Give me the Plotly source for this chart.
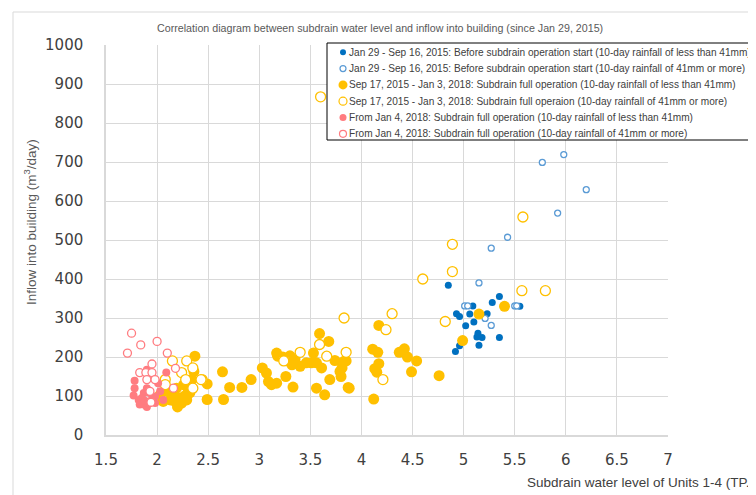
import plotly.graph_objects as go

# Subdrain water level (TP.m) vs inflow into building (m3/day)
blue_fill_x = [4.85, 5.35, 5.28, 5.09, 4.93, 4.96, 5.06, 5.23, 5.10, 5.02, 5.14, 5.13, 5.18, 5.35, 5.15, 4.96, 4.92, 5.55]
blue_fill_y = [384, 355, 340, 331, 311, 304, 310, 311, 290, 280, 261, 251, 250, 250, 230, 229, 214, 330]

blue_open_x = [5.98, 5.77, 6.20, 5.92, 5.43, 5.27, 5.15, 5.01, 5.04, 5.50, 5.52, 5.21, 5.27]
blue_open_y = [719, 699, 629, 569, 507, 479, 390, 331, 331, 331, 331, 299, 281]

yellow_fill_x = [3.59, 3.68, 3.53, 3.17, 3.18, 3.23, 3.30, 3.32, 3.26, 3.40, 3.46, 3.51, 3.56, 3.61,
                 3.74, 3.69, 3.64, 3.56, 3.79, 3.83, 3.87, 3.03, 3.07, 3.09, 3.17, 3.12, 3.33, 2.92,
                 2.83, 2.71, 2.64, 2.65, 2.49, 2.49, 2.37, 2.20, 2.32, 2.26, 2.34, 2.36, 2.13, 2.06,
                 2.16, 2.11, 2.19, 2.24, 2.29, 2.03, 4.17, 4.11, 4.16, 3.85, 3.81, 4.17, 4.13, 4.15,
                 4.37, 4.42, 4.45, 4.54, 4.49, 4.76, 3.88, 4.12, 3.80, 5.15, 5.40, 4.99, 3.35, 3.28,
                 2.27, 2.22, 2.18, 2.30]
yellow_fill_y = [260, 240, 210, 210, 202, 200, 203, 180, 150, 176, 185, 185, 185, 172,
                 191, 142, 103, 120, 163, 189, 122, 172, 159, 137, 133, 129, 123, 142,
                 122, 122, 162, 91, 91, 131, 202, 72, 108, 129, 142, 163, 90, 86,
                 103, 112, 120, 82, 90, 103, 281, 220, 212, 190, 172, 183, 170, 161,
                 212, 221, 200, 190, 162, 152, 120, 92, 150, 310, 330, 242, 195, 190,
                 100, 95, 85, 120]

yellow_open_x = [3.60, 5.58, 4.89, 4.89, 4.60, 5.57, 5.80, 4.82, 3.83, 4.30, 4.24, 3.85, 4.21, 3.40,
                 3.59, 3.66, 2.44, 3.24, 2.15, 2.29, 2.35, 2.24, 2.43, 2.08, 2.28, 2.35, 2.08]
yellow_open_y = [867, 559, 489, 419, 400, 370, 370, 291, 300, 311, 270, 212, 142, 212,
                 232, 202, 142, 190, 190, 190, 172, 160, 142, 142, 142, 120, 129]

pink_fill_x = [2.09, 1.90, 1.78, 1.78, 1.77, 1.82, 1.87, 1.93, 1.98, 2.03, 2.01, 1.87, 1.90, 1.98,
               1.83, 2.06, 1.90, 1.93, 1.85, 1.95, 1.88]
pink_fill_y = [160, 167, 139, 120, 101, 90, 78, 82, 99, 112, 133, 108, 120, 82,
               78, 90, 72, 108, 95, 92, 88]

pink_open_x = [1.75, 1.84, 2.00, 1.71, 2.10, 1.95, 2.18, 1.83, 1.89, 1.95, 1.90, 1.98, 2.16, 1.93, 1.94]
pink_open_y = [261, 231, 240, 210, 210, 182, 171, 160, 160, 160, 142, 142, 120, 112, 84]

series_names = [
    "Jan 29 - Sep 16, 2015: Before subdrain operation start (10-day rainfall of less than 41mm)",
    "Jan 29 - Sep 16, 2015: Before subdrain operation start (10-day rainfall of 41mm or more)",
    "Sep 17, 2015 - Jan 3, 2018: Subdrain full operation (10-day rainfall of less than 41mm)",
    "Sep 17, 2015 - Jan 3, 2018: Subdrain full operaion (10-day rainfall of 41mm or more)",
    "From Jan 4, 2018: Subdrain full operation (10-day rainfall of less than 41mm)",
    "From Jan 4, 2018: Subdrain full operation (10-day rainfall of 41mm or more)",
]

x_ticks = [1.5, 2, 2.5, 3, 3.5, 4, 4.5, 5, 5.5, 6, 6.5, 7]
y_ticks = [0, 100, 200, 300, 400, 500, 600, 700, 800, 900, 1000]

BLUE = "#0070C0"
BLUE_OPEN = "#5B9BD5"
YELLOW = "#FFC000"
PINK = "#FF7C80"
GRID = "#D9D9D9"
SANS = "Liberation Sans, Arial, sans-serif"

# (x, y, colour, filled, marker size, legend marker size)
series = [
    (blue_fill_x, blue_fill_y, BLUE, True, 7, 6),
    (blue_open_x, blue_open_y, BLUE_OPEN, False, 6, 6),
    (yellow_fill_x, yellow_fill_y, YELLOW, True, 11, 9),
    (yellow_open_x, yellow_open_y, YELLOW, False, 10, 8),
    (pink_fill_x, pink_fill_y, PINK, True, 8, 7),
    (pink_open_x, pink_open_y, PINK, False, 8, 7),
]

fig = go.Figure()
for name, (xs, ys, col, filled, size, _) in zip(series_names, series):
    marker = dict(size=size, color=col if filled else "white",
                  line=dict(width=0 if filled else 1.3, color=col))
    fig.add_trace(go.Scatter(x=xs, y=ys, mode="markers", name=name, marker=marker, showlegend=False))

# the page body has an 8px margin, so the figure starts at (8, 8) in the window.
# wanted plot area in window pixels: x 106..668, y 45..435
OFF = 8
PL, PR, PT, PB = 106, 668, 45, 435
W, H = PR - PL, PB - PT


def px(x):
    return (x - PL) / W


def py(y):
    return (PB - y) / H


shapes = [
    # outer chart-area border (clipped by the window)
    dict(type="rect", xref="paper", yref="paper", x0=px(13), x1=px(900), y0=py(700), y1=py(12),
         line=dict(color=GRID, width=1), layer="below"),
    # legend box
    dict(type="rect", xref="paper", yref="paper", x0=px(327), x1=px(753), y0=py(140), y1=py(43),
         line=dict(color="black", width=1), fillcolor="white", layer="above"),
]
annotations = []
for i, (name, (_, _, col, filled, _, lsize)) in enumerate(zip(series_names, series)):
    yc = 52.3 + i * 16.3
    r = lsize / 2
    shapes.append(dict(type="circle", xref="paper", yref="paper", xsizemode="pixel", ysizemode="pixel",
                       xanchor=px(343), yanchor=py(yc), x0=-r, x1=r, y0=-r, y1=r,
                       fillcolor=col if filled else "white", line=dict(color=col, width=0 if filled else 1.2),
                       layer="above"))
    annotations.append(dict(xref="paper", yref="paper", x=px(347), y=py(yc), text=name, showarrow=False,
                            xanchor="left", yanchor="middle", font=dict(family=SANS, size=10.1, color="#404040")))

annotations += [
    dict(xref="paper", yref="paper", x=px(380), y=py(28), text="Correlation diagram between subdrain water level and inflow into building (since Jan 29, 2015)",
         showarrow=False, xanchor="center", yanchor="middle", font=dict(family=SANS, size=10.7, color="#595959")),
    dict(xref="paper", yref="paper", x=px(30), y=py(222), text="Inflow into building (m<sup>3</sup>/day)",
         textangle=-90, showarrow=False, xanchor="center", yanchor="middle", font=dict(family=SANS, size=13.5, color="#595959")),
    dict(xref="paper", yref="paper", x=px(525), y=py(482), text="Subdrain water level of Units 1-4 (TP.m)",
         showarrow=False, xanchor="left", yanchor="middle", font=dict(family=SANS, size=13.5, color="#404040")),
]

fig.update_layout(
    width=756, height=495,
    margin=dict(l=PL - OFF, r=756 - (PR - OFF), t=PT - OFF, b=495 - (PB - OFF)),
    paper_bgcolor="white", plot_bgcolor="white",
    font=dict(family="DejaVu Sans, Verdana, sans-serif", size=15, color="#404040"),
    shapes=shapes, annotations=annotations,
)
fig.update_xaxes(range=[1.5, 7], tickvals=x_ticks, ticktext=[f"{v:g}" for v in x_ticks],
                 showgrid=True, gridcolor=GRID, gridwidth=1, showline=True, linecolor=GRID, linewidth=1.5,
                 zeroline=False, ticks="", ticklabelstandoff=10)
fig.update_yaxes(range=[0, 1000], tickvals=y_ticks,
                 showgrid=True, gridcolor=GRID, gridwidth=1, showline=True, linecolor=GRID, linewidth=1.5,
                 zeroline=False, ticks="", ticklabelstandoff=18)

fig.write_html("out.html")
